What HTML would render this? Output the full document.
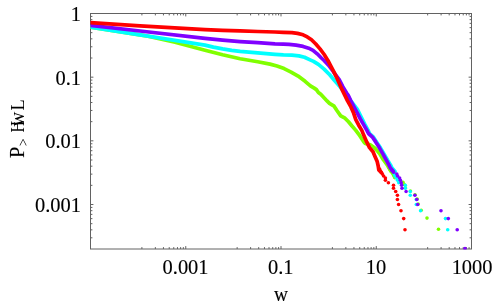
<!DOCTYPE html>
<html><head><meta charset="utf-8"><title>plot</title>
<style>html,body{margin:0;padding:0;background:#fff;overflow:hidden;}svg{display:block;will-change:transform;}text{font-family:"Liberation Serif",serif;}</style>
</head><body>
<svg width="498" height="308" viewBox="0 0 498 308">
<rect width="498" height="308" fill="#fff"/>
<path d="M90.50 249.0 v-2.9 M90.50 13.5 v2.9 M185.75 249.0 v-2.9 M185.75 13.5 v2.9 M281.00 249.0 v-2.9 M281.00 13.5 v2.9 M376.25 249.0 v-2.9 M376.25 13.5 v2.9 M471.50 249.0 v-2.9 M471.50 13.5 v2.9 M141.90 249.0 v-1.9 M141.90 13.5 v1.9 M155.35 249.0 v-1.9 M155.35 13.5 v1.9 M163.44 249.0 v-1.9 M163.44 13.5 v1.9 M169.23 249.0 v-1.9 M169.23 13.5 v1.9 M173.76 249.0 v-1.9 M173.76 13.5 v1.9 M177.47 249.0 v-1.9 M177.47 13.5 v1.9 M180.61 249.0 v-1.9 M180.61 13.5 v1.9 M183.34 249.0 v-1.9 M183.34 13.5 v1.9 M237.15 249.0 v-1.9 M237.15 13.5 v1.9 M250.60 249.0 v-1.9 M250.60 13.5 v1.9 M258.69 249.0 v-1.9 M258.69 13.5 v1.9 M264.48 249.0 v-1.9 M264.48 13.5 v1.9 M269.01 249.0 v-1.9 M269.01 13.5 v1.9 M272.72 249.0 v-1.9 M272.72 13.5 v1.9 M275.86 249.0 v-1.9 M275.86 13.5 v1.9 M278.59 249.0 v-1.9 M278.59 13.5 v1.9 M332.40 249.0 v-1.9 M332.40 13.5 v1.9 M345.85 249.0 v-1.9 M345.85 13.5 v1.9 M353.94 249.0 v-1.9 M353.94 13.5 v1.9 M359.73 249.0 v-1.9 M359.73 13.5 v1.9 M364.26 249.0 v-1.9 M364.26 13.5 v1.9 M367.97 249.0 v-1.9 M367.97 13.5 v1.9 M371.11 249.0 v-1.9 M371.11 13.5 v1.9 M373.84 249.0 v-1.9 M373.84 13.5 v1.9 M427.65 249.0 v-1.9 M427.65 13.5 v1.9 M441.10 249.0 v-1.9 M441.10 13.5 v1.9 M449.19 249.0 v-1.9 M449.19 13.5 v1.9 M454.98 249.0 v-1.9 M454.98 13.5 v1.9 M459.51 249.0 v-1.9 M459.51 13.5 v1.9 M463.22 249.0 v-1.9 M463.22 13.5 v1.9 M466.36 249.0 v-1.9 M466.36 13.5 v1.9 M469.09 249.0 v-1.9 M469.09 13.5 v1.9 M90.5 13.50 h2.9 M471.5 13.50 h-2.9 M90.5 58.00 h1.9 M471.5 58.00 h-1.9 M90.5 46.79 h1.9 M471.5 46.79 h-1.9 M90.5 38.84 h1.9 M471.5 38.84 h-1.9 M90.5 32.67 h1.9 M471.5 32.67 h-1.9 M90.5 27.63 h1.9 M471.5 27.63 h-1.9 M90.5 23.36 h1.9 M471.5 23.36 h-1.9 M90.5 19.67 h1.9 M471.5 19.67 h-1.9 M90.5 16.41 h1.9 M471.5 16.41 h-1.9 M90.5 77.17 h2.9 M471.5 77.17 h-2.9 M90.5 121.67 h1.9 M471.5 121.67 h-1.9 M90.5 110.46 h1.9 M471.5 110.46 h-1.9 M90.5 102.51 h1.9 M471.5 102.51 h-1.9 M90.5 96.34 h1.9 M471.5 96.34 h-1.9 M90.5 91.30 h1.9 M471.5 91.30 h-1.9 M90.5 87.03 h1.9 M471.5 87.03 h-1.9 M90.5 83.34 h1.9 M471.5 83.34 h-1.9 M90.5 80.08 h1.9 M471.5 80.08 h-1.9 M90.5 140.84 h2.9 M471.5 140.84 h-2.9 M90.5 185.34 h1.9 M471.5 185.34 h-1.9 M90.5 174.13 h1.9 M471.5 174.13 h-1.9 M90.5 166.18 h1.9 M471.5 166.18 h-1.9 M90.5 160.01 h1.9 M471.5 160.01 h-1.9 M90.5 154.97 h1.9 M471.5 154.97 h-1.9 M90.5 150.70 h1.9 M471.5 150.70 h-1.9 M90.5 147.01 h1.9 M471.5 147.01 h-1.9 M90.5 143.75 h1.9 M471.5 143.75 h-1.9 M90.5 204.51 h2.9 M471.5 204.51 h-2.9 M90.5 237.80 h1.9 M471.5 237.80 h-1.9 M90.5 229.85 h1.9 M471.5 229.85 h-1.9 M90.5 223.68 h1.9 M471.5 223.68 h-1.9 M90.5 218.64 h1.9 M471.5 218.64 h-1.9 M90.5 214.37 h1.9 M471.5 214.37 h-1.9 M90.5 210.68 h1.9 M471.5 210.68 h-1.9 M90.5 207.42 h1.9 M471.5 207.42 h-1.9" stroke="#626262" stroke-width="1" fill="none"/>
<rect x="90.5" y="13.5" width="381.0" height="235.5" fill="none" stroke="#626262" stroke-width="1"/>
<defs><clipPath id="c"><rect x="90.50" y="13.50" width="381.00" height="236.10"/></clipPath></defs>
<g clip-path="url(#c)">
<polyline points="90.5,27.1 140.0,34.9 148.0,36.3 175.0,42.2 205.0,50.3 222.6,54.8 240.1,58.7 257.7,61.8 270.0,64.1 277.0,66.0 284.1,68.6 291.1,72.1 298.1,76.1 305.1,81.3 310.4,85.8 314.2,88.1 316.4,89.6 318.4,92.5 320.8,94.3 324.5,98.2 327.0,100.9 329.5,103.4 334.1,106.2 336.9,110.5 340.7,115.8 345.0,118.2 348.5,121.8 352.0,126.0 355.6,130.1 359.6,135.4 363.9,141.9 365.3,143.4 370.2,144.8 375.1,148.3 379.8,153.9 383.2,159.5 387.4,165.1 389.0,168.0 391.3,171.5" fill="none" stroke="#80ff00" stroke-width="3.7" stroke-linecap="round" stroke-linejoin="round"/>
<circle cx="438.5" cy="229.3" r="1.8" fill="#80ff00"/>
<circle cx="427.0" cy="218.1" r="1.8" fill="#80ff00"/>
<circle cx="421.2" cy="210.2" r="1.8" fill="#80ff00"/>
<circle cx="418.2" cy="204.0" r="1.8" fill="#80ff00"/>
<circle cx="417.2" cy="199.0" r="1.8" fill="#80ff00"/>
<circle cx="415.0" cy="194.7" r="1.8" fill="#80ff00"/>
<circle cx="410.4" cy="191.0" r="1.8" fill="#80ff00"/>
<circle cx="405.4" cy="187.7" r="1.8" fill="#80ff00"/>
<circle cx="404.5" cy="184.8" r="1.8" fill="#80ff00"/>
<circle cx="403.0" cy="182.2" r="1.8" fill="#80ff00"/>
<circle cx="399.5" cy="179.8" r="1.8" fill="#80ff00"/>
<circle cx="394.6" cy="177.6" r="1.8" fill="#80ff00"/>
<circle cx="393.6" cy="175.5" r="1.8" fill="#80ff00"/>
<circle cx="392.6" cy="173.6" r="1.8" fill="#80ff00"/>
<circle cx="391.3" cy="171.8" r="1.8" fill="#80ff00"/>
<circle cx="390.3" cy="170.2" r="1.8" fill="#80ff00"/>
<polyline points="90.5,27.2 140.0,34.8 205.0,45.1 213.4,47.1 222.6,48.9 231.7,50.3 240.1,51.4 257.7,52.8 275.0,54.3 283.4,54.9 291.9,55.2 298.9,55.9 304.5,57.3 310.1,59.9 313.5,61.4 318.4,64.4 324.1,69.1 329.7,74.8 333.9,79.7 338.1,84.6 343.0,90.4 347.5,96.3 352.0,102.3 357.2,109.1 360.7,116.1 364.6,123.8 368.0,130.1 369.6,133.5 373.2,136.8 376.5,141.9 380.3,147.6 384.0,153.9 387.6,160.2 390.6,165.1 392.0,168.0 395.0,171.5" fill="none" stroke="#00ffff" stroke-width="3.7" stroke-linecap="round" stroke-linejoin="round"/>
<circle cx="447.7" cy="229.8" r="1.8" fill="#00ffff"/>
<circle cx="445.5" cy="218.6" r="1.8" fill="#00ffff"/>
<circle cx="420.6" cy="210.7" r="1.8" fill="#00ffff"/>
<circle cx="416.3" cy="204.5" r="1.8" fill="#00ffff"/>
<circle cx="416.3" cy="199.5" r="1.8" fill="#00ffff"/>
<circle cx="410.3" cy="195.2" r="1.8" fill="#00ffff"/>
<circle cx="410.3" cy="191.5" r="1.8" fill="#00ffff"/>
<circle cx="405.3" cy="188.2" r="1.8" fill="#00ffff"/>
<circle cx="405.3" cy="185.3" r="1.8" fill="#00ffff"/>
<circle cx="398.8" cy="182.7" r="1.8" fill="#00ffff"/>
<circle cx="397.6" cy="180.3" r="1.8" fill="#00ffff"/>
<circle cx="396.4" cy="178.1" r="1.8" fill="#00ffff"/>
<circle cx="394.9" cy="176.0" r="1.8" fill="#00ffff"/>
<circle cx="394.2" cy="174.1" r="1.8" fill="#00ffff"/>
<polyline points="90.5,25.3 140.0,31.0 205.0,38.4 222.6,40.2 240.1,41.6 257.7,42.7 275.0,43.9 283.4,44.1 289.1,44.4 296.1,45.1 303.1,46.4 308.7,48.2 313.0,50.3 317.2,53.8 321.4,58.0 324.1,60.5 328.3,64.9 332.5,70.5 335.6,74.8 339.2,79.7 342.8,86.7 346.6,93.0 348.1,95.0 350.7,100.6 354.0,106.9 357.5,113.3 360.3,118.9 363.9,125.2 366.9,130.4 368.5,133.5 372.2,136.8 375.7,141.9 379.3,147.6 382.9,153.9 386.3,160.2 389.0,165.1 390.4,168.0 393.4,171.5" fill="none" stroke="#8000ff" stroke-width="3.7" stroke-linecap="round" stroke-linejoin="round"/>
<circle cx="465.0" cy="248.6" r="1.8" fill="#8000ff"/>
<circle cx="457.2" cy="229.8" r="1.8" fill="#8000ff"/>
<circle cx="448.3" cy="218.6" r="1.8" fill="#8000ff"/>
<circle cx="441.0" cy="210.7" r="1.8" fill="#8000ff"/>
<circle cx="417.7" cy="204.5" r="1.8" fill="#8000ff"/>
<circle cx="416.8" cy="199.5" r="1.8" fill="#8000ff"/>
<circle cx="414.9" cy="195.2" r="1.8" fill="#8000ff"/>
<circle cx="406.1" cy="191.5" r="1.8" fill="#8000ff"/>
<circle cx="402.0" cy="188.2" r="1.8" fill="#8000ff"/>
<circle cx="401.6" cy="185.3" r="1.8" fill="#8000ff"/>
<circle cx="401.2" cy="182.7" r="1.8" fill="#8000ff"/>
<circle cx="400.4" cy="180.3" r="1.8" fill="#8000ff"/>
<circle cx="399.6" cy="178.1" r="1.8" fill="#8000ff"/>
<circle cx="397.6" cy="176.0" r="1.8" fill="#8000ff"/>
<circle cx="396.8" cy="174.1" r="1.8" fill="#8000ff"/>
<circle cx="393.5" cy="172.3" r="1.8" fill="#8000ff"/>
<circle cx="392.0" cy="170.7" r="1.8" fill="#8000ff"/>
<polyline points="90.5,22.6 140.0,25.9 205.0,29.6 222.6,30.3 240.1,30.9 257.7,31.5 275.0,32.0 283.4,32.3 291.9,32.7 297.5,33.4 303.1,34.8 307.3,36.9 311.5,39.8 315.8,44.0 320.0,48.9 324.2,54.5 327.9,60.4 330.6,65.6 333.5,71.2 336.7,77.6 339.5,83.9 342.3,90.2 345.1,95.8 347.4,100.6 350.9,106.9 353.7,113.3 355.8,119.6 358.7,125.2 361.8,130.4 363.9,135.6 366.7,141.9 369.5,147.6 373.0,151.8 375.1,156.7 377.2,161.6 378.2,166.0 378.8,169.9 381.3,172.6" fill="none" stroke="#ff0000" stroke-width="3.7" stroke-linecap="round" stroke-linejoin="round"/>
<circle cx="405.0" cy="229.8" r="1.8" fill="#ff0000"/>
<circle cx="403.7" cy="218.6" r="1.8" fill="#ff0000"/>
<circle cx="401.0" cy="210.7" r="1.8" fill="#ff0000"/>
<circle cx="398.6" cy="204.5" r="1.8" fill="#ff0000"/>
<circle cx="397.4" cy="199.5" r="1.8" fill="#ff0000"/>
<circle cx="397.4" cy="195.2" r="1.8" fill="#ff0000"/>
<circle cx="395.7" cy="191.5" r="1.8" fill="#ff0000"/>
<circle cx="393.5" cy="188.2" r="1.8" fill="#ff0000"/>
<circle cx="393.5" cy="185.3" r="1.8" fill="#ff0000"/>
<circle cx="388.4" cy="182.7" r="1.8" fill="#ff0000"/>
<circle cx="385.4" cy="180.3" r="1.8" fill="#ff0000"/>
<circle cx="385.4" cy="178.1" r="1.8" fill="#ff0000"/>
<circle cx="383.6" cy="176.0" r="1.8" fill="#ff0000"/>
<circle cx="382.4" cy="174.1" r="1.8" fill="#ff0000"/>
<circle cx="381.2" cy="172.3" r="1.8" fill="#ff0000"/>
<circle cx="380.3" cy="170.7" r="1.8" fill="#ff0000"/>
<circle cx="379.6" cy="169.1" r="1.8" fill="#ff0000"/>
</g>
<text transform="translate(81.00 21.00) scale(0.93 1)" text-anchor="end" font-family="Liberation Serif, serif" font-size="22" fill="#000" stroke="#000" stroke-width="0.15">1</text>
<text transform="translate(81.00 84.67) scale(0.93 1)" text-anchor="end" font-family="Liberation Serif, serif" font-size="22" fill="#000" stroke="#000" stroke-width="0.15">0.1</text>
<text transform="translate(81.00 148.34) scale(0.93 1)" text-anchor="end" font-family="Liberation Serif, serif" font-size="22" fill="#000" stroke="#000" stroke-width="0.15">0.01</text>
<text transform="translate(81.00 212.01) scale(0.93 1)" text-anchor="end" font-family="Liberation Serif, serif" font-size="22" fill="#000" stroke="#000" stroke-width="0.15">0.001</text>
<text transform="translate(185.55 274.40) scale(0.93 1)" text-anchor="middle" font-family="Liberation Serif, serif" font-size="22" fill="#000" stroke="#000" stroke-width="0.15">0.001</text>
<text transform="translate(280.80 274.40) scale(0.93 1)" text-anchor="middle" font-family="Liberation Serif, serif" font-size="22" fill="#000" stroke="#000" stroke-width="0.15">0.1</text>
<text transform="translate(376.05 274.40) scale(0.93 1)" text-anchor="middle" font-family="Liberation Serif, serif" font-size="22" fill="#000" stroke="#000" stroke-width="0.15">10</text>
<text transform="translate(472.10 274.40) scale(0.93 1)" text-anchor="middle" font-family="Liberation Serif, serif" font-size="22" fill="#000" stroke="#000" stroke-width="0.15">1000</text>
<text transform="translate(281.00 301.10) scale(0.9 1)" text-anchor="middle" font-family="Liberation Serif, serif" font-size="21.5" fill="#000" stroke="#000" stroke-width="0.15">w</text>
<g transform="translate(23.5 158) rotate(-90)" font-family="Liberation Serif, serif" fill="#000"><text x="0" y="0" font-size="22" transform="scale(0.93 1)" stroke="#000" stroke-width="0.15">P</text><text x="11.7" y="4.0" font-size="14">&gt;</text><text transform="translate(25.5 0) scale(0.88 1)" font-size="18.3">H</text><text transform="translate(31.4 0) scale(0.95 1)" font-size="21.5">w</text><text transform="translate(47.6 0) scale(1.0 1)" font-size="18.3">L</text></g>
</svg>
</body></html>
